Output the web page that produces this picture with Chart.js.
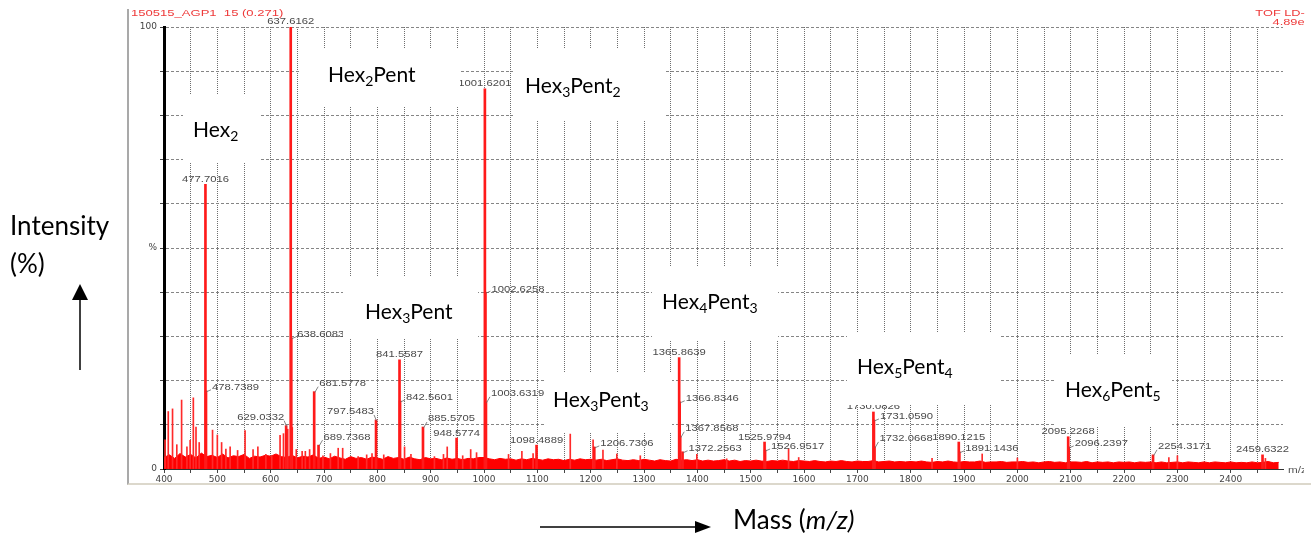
<!DOCTYPE html>
<html><head><meta charset="utf-8">
<script src="https://cdn.jsdelivr.net/npm/chart.js@4/dist/chart.umd.min.js"></script>
<style>
body{margin:0;background:#fff;}
#wrap{position:relative;width:1311px;height:536px;overflow:hidden;font-family:Lato,"Open Sans",sans-serif;}
#c{position:absolute;left:0;top:0;}
.frame{position:absolute;left:127px;top:9px;width:1184px;height:474px;border-left:2px solid #a9a9a9;border-bottom:2px solid #dcd8cc;}
.box{position:absolute;background:#fff;}
.ann{position:absolute;font-size:21px;line-height:21px;color:#000;white-space:nowrap;}
.ann sub{font-size:14px;vertical-align:-4px;line-height:0;}
.big{font-size:26px;line-height:26px;}
.small{position:absolute;font-family:"Liberation Sans",Arial,sans-serif;font-size:9px;line-height:9px;color:#ee3a3a;transform-origin:0 0;transform:scaleX(1.45);white-space:nowrap;}
.rt{transform-origin:100% 0;transform:scaleX(1.42);}
svg{position:absolute;left:0;top:0;}
</style>
</head><body>
<div id="wrap">
<canvas id="c" width="1311" height="536"></canvas>
<div class="frame"></div>
<div class="small" style="left:131px;top:9px;">150515_AGP1&nbsp;&nbsp;15 (0.271)</div>
<div class="small rt" style="right:6px;top:9px;">TOF LD-</div>
<div class="small rt" style="right:6px;top:18px;">4.89e</div>
<div style="position:absolute;left:1288px;top:465px;width:16px;height:12px;overflow:hidden;"><span class="small" style="left:0;top:1px;color:#555;transform:scaleX(1.3);">m/z</span></div>

<div class="box" style="left:183px;top:95px;width:77px;height:67px"></div>
<div class="ann" style="left:193px;top:118px">Hex<sub>2</sub></div>
<div class="box" style="left:300px;top:48px;width:160px;height:59px"></div>
<div class="ann" style="left:328px;top:63px">Hex<sub>2</sub>Pent</div>
<div class="box" style="left:513px;top:48px;width:152px;height:72px"></div>
<div class="ann" style="left:525px;top:74px">Hex<sub>3</sub>Pent<sub>2</sub></div>
<div class="box" style="left:343px;top:277px;width:135px;height:62px"></div>
<div class="ann" style="left:365px;top:300px">Hex<sub>3</sub>Pent</div>
<div class="box" style="left:652px;top:266px;width:126px;height:74px"></div>
<div class="ann" style="left:662px;top:290px">Hex<sub>4</sub>Pent<sub>3</sub></div>
<div class="box" style="left:545px;top:372px;width:127px;height:60px"></div>
<div class="ann" style="left:553px;top:388px">Hex<sub>3</sub>Pent<sub>3</sub></div>
<div class="box" style="left:847px;top:332px;width:153px;height:73px"></div>
<div class="ann" style="left:857px;top:355px">Hex<sub>5</sub>Pent<sub>4</sub></div>
<div class="box" style="left:1055px;top:354px;width:117px;height:73px"></div>
<div class="ann" style="left:1065px;top:378px">Hex<sub>6</sub>Pent<sub>5</sub></div>

<div class="ann big" style="left:10px;top:212px">Intensity</div>
<div class="ann big" style="left:10px;top:250px">(%)</div>
<div class="ann" style="left:733px;top:506px;font-size:26px;line-height:26px">Mass (<i>m/z)</i></div>
<svg width="1311" height="536">
  <line x1="80" y1="370" x2="80" y2="298" stroke="#000" stroke-width="1.5"/>
  <polygon points="72,300 88,300 80,284" fill="#000"/>
  <line x1="540" y1="527" x2="697" y2="527" stroke="#000" stroke-width="1.5"/>
  <polygon points="695,521 695,533 711,527" fill="#000"/>
</svg>
</div>
<script>
// ---- data ----
const peakMz  = [477.7016, 478.7389, 629.0332, 637.6162, 638.6083, 681.5778, 689.7368, 797.5483, 841.5587, 842.5601, 885.5705, 948.5774, 1001.6201, 1002.6258, 1003.6319, 1098.4889, 1206.7306, 1365.8639, 1366.8346, 1367.8568, 1372.2563, 1525.9794, 1526.9517, 1730.0826, 1731.0590, 1732.0668, 1890.1215, 1891.1436, 2095.2268, 2096.2397, 2254.3171, 2459.6322];
const peakInt = [64.4, 17.7, 9.8, 100, 29.7, 17.5, 5.4, 11.1, 24.7, 15.4, 9.5, 7.0, 86.0, 40.0, 15.2, 5.4, 5.0, 25.2, 15.2, 7.3, 3.9, 6.1, 4.3, 12.9, 11.1, 5.0, 6.1, 3.9, 7.3, 5.0, 3.2, 3.2];
const minorMz  = [402, 408, 416, 424, 433, 443, 449, 455, 460, 466, 491, 500, 508, 516, 524, 538, 552, 567, 576, 591, 602, 617.6, 624, 632, 640.5, 648, 659, 665, 673, 698, 712, 726.6, 735, 764, 780, 790, 812, 851, 863, 907, 924, 931, 960, 975, 986, 1046, 1071, 1092, 1161.7, 1204.5, 1223, 1249, 1293, 1399, 1455, 1571, 1590, 1840, 1934, 2000, 2284, 2300, 2465];
const minorInt = [6.6, 13.0, 13.6, 5.5, 15.6, 5.0, 6.5, 16.1, 9.5, 6.0, 8.8, 7.7, 6.0, 4.5, 5.0, 4.2, 8.7, 4.4, 5.0, 3.3, 3.0, 7.6, 8.0, 9.0, 9.4, 4.4, 4.0, 4.0, 4.4, 3.0, 3.5, 4.7, 4.7, 2.8, 3.2, 3.5, 3.2, 5.0, 3.3, 2.8, 3.3, 5.0, 3.0, 4.4, 3.7, 3.3, 4.0, 3.5, 7.9, 6.6, 4.3, 3.4, 3.0, 3.3, 2.3, 4.6, 2.6, 2.4, 3.4, 2.5, 2.6, 3.0, 2.4];
const noiseStart = 400, noiseStep = 10;
const noiseLevel = [
 2.6,3.2,2.4,3.5,2.7,3.3,2.5,3.6,2.8,3.1,2.6,3.4,2.5,3.0,2.8,3.3,2.4,2.9,2.7,3.1,
 2.9,3.4,2.8,2.6,3.1,2.5,2.9,2.7,3.2,2.4,2.7,2.3,2.9,2.5,2.2,2.8,2.4,2.6,2.2,2.7,
 2.5,2.2,2.8,2.4,2.6,2.2,2.7,2.3,2.1,2.6,2.3,2.4,2.1,2.5,2.2,2.4,2.1,2.4,2.3,2.6,
 2.6,2.3,2.1,2.4,2.2,2.3,2.0,2.3,2.1,2.4,2.2,2.0,2.3,2.1,2.2,1.9,2.2,2.0,2.3,2.1,
 2.2,2.0,2.2,1.9,2.1,2.3,2.0,1.9,2.1,1.9,2.2,2.0,1.8,2.1,1.9,1.8,2.2,2.0,2.1,1.9,
 2.1,1.8,2.0,1.8,1.9,2.1,1.8,2.0,1.7,1.9,1.8,2.0,1.8,1.7,1.9,1.8,2.0,1.8,1.7,1.9,
 1.8,1.7,1.9,1.7,1.6,1.8,1.7,1.9,1.7,1.6,1.8,1.7,1.7,1.9,1.6,1.7,1.8,1.6,1.7,1.6,
 1.7,1.6,1.8,1.6,1.5,1.7,1.6,1.8,1.6,1.5,1.7,1.6,1.6,1.8,1.5,1.6,1.6,1.7,1.5,1.6,
 1.6,1.7,1.5,1.6,1.4,1.6,1.7,1.5,1.6,1.4,1.6,1.6,1.5,1.7,1.4,1.6,1.5,1.6,1.4,1.6,
 1.5,1.6,1.4,1.6,1.5,1.6,1.4,1.6,1.4,1.5,1.6,1.4,1.6,1.5,1.4,1.6,1.4,1.6,1.5,1.4,
 1.6,1.4,1.5,1.4,1.6,1.4,1.5,1.7,1.4,1.5];
const xMin = 400, xMax = 2498, xGridStep = 50, xLastGrid = 2450, xLabelEvery = 100;
const yGridStep = 10;
const yTickValues = [0, 50, 100];
const yTickTexts  = ['0', '%', '100'];

// ---- label placement (style) ----
const labelMode = ['c','r','ul','c','r','ur','ur','ul','c','r','ur','c','c','r','ur','c','r','c','r','ur','r','c','r','c','r','ur','c','r','c','r','ur','c'];
const SX = 1.25;

const labelPlugin = {
  id: 'peakLabels',
  afterDatasetsDraw(chart) {
    const {ctx, scales: {x, y}} = chart;
    ctx.save();
    ctx.font = '9px "Liberation Sans", Arial, sans-serif';
    ctx.textBaseline = 'middle';
    ctx.lineWidth = 0.8;
    peakMz.forEach((mz, i) => {
      const txt = mz.toFixed(4);
      const px = x.getPixelForValue(mz), py = y.getPixelForValue(peakInt[i]);
      const w = ctx.measureText(txt).width * SX;
      const m = labelMode[i];
      let left, cy, lx, ly;
      if (m === 'c') { left = px - w / 2; cy = py - 5; }
      else if (m === 'r') { left = px + 6; cy = py - 3; lx = left - 1; ly = cy + 2; }
      else if (m === 'ur') { left = px + 5; cy = py - 8; lx = left - 1; ly = cy + 3; }
      else { left = px - 2 - w; cy = py - 8; lx = px - 2; ly = cy + 3; }
      if (m !== 'c') {
        ctx.strokeStyle = '#666';
        ctx.beginPath(); ctx.moveTo(px + 0.5, py + 1); ctx.lineTo(lx, ly); ctx.stroke();
      }
      ctx.fillStyle = '#4a4a4a';
      ctx.save(); ctx.translate(left, cy); ctx.scale(SX, 1); ctx.fillText(txt, 0, 0); ctx.restore();
    });
    ctx.restore();
  }
};

const tickFont = {family: '"DejaVu Sans", sans-serif', size: 9};
const isMult = (v, s) => Math.abs(v / s - Math.round(v / s)) < 1e-6;
new Chart(document.getElementById('c'), {
  type: 'bar',
  data: {
    datasets: [
      { type: 'bar', label: 'peaks', data: peakMz.map((m, i) => ({x: m, y: peakInt[i]})),
        backgroundColor: '#ff1a1a', barThickness: 2, grouped: false, order: 1 },
      { type: 'bar', label: 'minor', data: minorMz.map((m, i) => ({x: m, y: minorInt[i]})),
        backgroundColor: '#ff2a2a', barThickness: 1, grouped: false, order: 2 },
      { type: 'line', label: 'noise', data: noiseLevel.map((v, i) => ({x: noiseStart + i * noiseStep, y: v})),
        borderColor: '#ff0000', backgroundColor: '#ff0000', borderWidth: 1, pointRadius: 0, fill: 'origin', tension: 0, order: 3 }
    ]
  },
  options: {
    responsive: false, animation: false,
    layout: { padding: { left: 128, top: 27, right: 28, bottom: 0 } },
    plugins: { legend: { display: false }, tooltip: { enabled: false } },
    scales: {
      x: {
        type: 'linear', min: xMin, max: xMax, offset: false,
        afterFit(s) { s.height = 67; },
        afterBuildTicks(s) {
          const t = [];
          for (let v = xMin; v <= xLastGrid; v += xGridStep) t.push({value: v});
          s.ticks = t;
        },
        ticks: { autoSkip: false, maxRotation: 0, minRotation: 0, padding: 1, color: '#444', font: tickFont,
          callback: v => (isMult(v, xLabelEvery) ? String(Math.round(v)) : '') },
        grid: { offset: false, tickLength: 4, color: '#6e6e6e', tickColor: '#444' },
        border: { display: true, color: '#333', width: 1, dash: [1, 1] }
      },
      y: {
        type: 'linear', min: 0, max: 100,
        afterFit(s) { s.width = 36; },
        afterBuildTicks(s) {
          const t = [];
          for (let v = 0; v <= 100; v += yGridStep) t.push({value: v});
          s.ticks = t;
        },
        ticks: { autoSkip: false, padding: 3, color: '#444', font: tickFont,
          callback: v => { const k = yTickValues.indexOf(Math.round(v)); return k >= 0 ? yTickTexts[k] : ''; } },
        grid: { color: '#858585', tickLength: 4, tickColor: '#444' },
        border: { display: true, color: '#000', width: 3, dash: [3, 2] }
      }
    }
  },
  plugins: [labelPlugin]
});
</script>
</body></html>
